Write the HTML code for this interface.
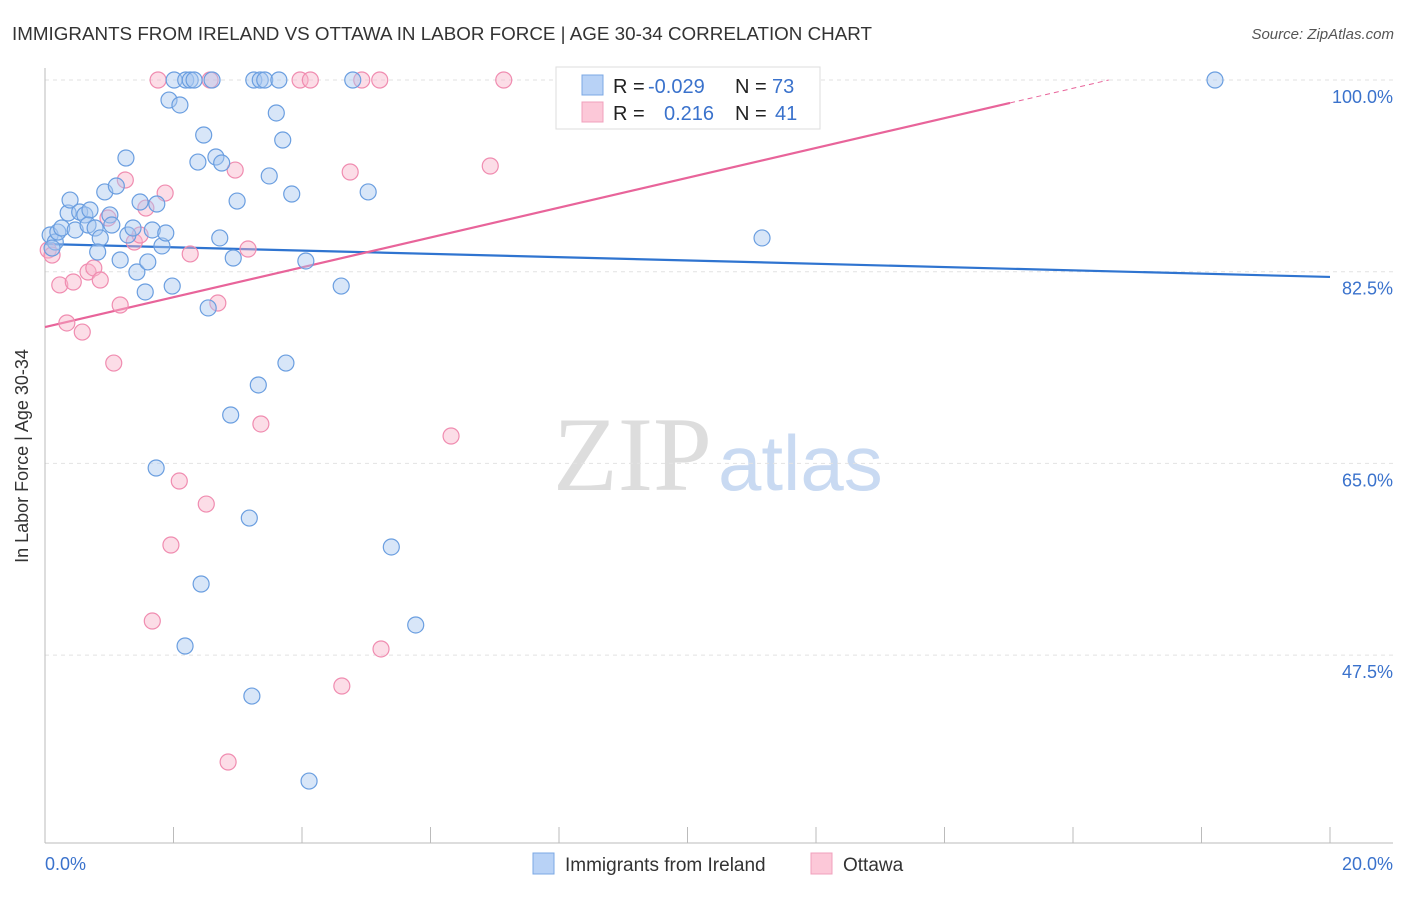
<!DOCTYPE html>
<html><head><meta charset="utf-8"><style>
body{margin:0;background:#fff;font-family:"Liberation Sans",sans-serif}
svg text{font-family:"Liberation Sans",sans-serif}
</style></head><body>
<svg id="c" width="1406" height="892" xmlns="http://www.w3.org/2000/svg">
<text x="12" y="40" font-size="18.5" fill="#333" textLength="860" lengthAdjust="spacingAndGlyphs">IMMIGRANTS FROM IRELAND VS OTTAWA IN LABOR FORCE | AGE 30-34 CORRELATION CHART</text>
<text x="1394" y="39" font-size="15" fill="#555" text-anchor="end" font-style="italic">Source: ZipAtlas.com</text>
<text x="28" y="456" font-size="18" fill="#333" text-anchor="middle" transform="rotate(-90 28 456)">In Labor Force | Age 30-34</text>
<g>
<text x="553" y="490" font-size="106" fill="#ddd" style="font-family:'Liberation Serif',serif">ZIP</text>
<text x="718" y="490" font-size="78" fill="#c9daf2">atlas</text>
</g>
<g id="grid"></g><g id="axes"></g><g id="lines"></g><g id="pts"></g>
<g>
<rect x="556" y="67" width="264" height="62" fill="#fff" stroke="#ddd"/>
<rect x="582" y="75" width="21" height="20" fill="#b8d2f6" stroke="#7ba8e4"/>
<rect x="582" y="102" width="21" height="20" fill="#fcc8d8" stroke="#f0a0bc"/>
<text x="613" y="93" font-size="20" fill="#222">R =</text><text x="648" y="93" font-size="20" fill="#3a72cc">-0.029</text>
<text x="735" y="93" font-size="20" fill="#222">N =</text><text x="772" y="93" font-size="20" fill="#3a72cc">73</text>
<text x="613" y="120" font-size="20" fill="#222">R =</text><text x="664" y="120" font-size="20" fill="#3a72cc">0.216</text>
<text x="735" y="120" font-size="20" fill="#222">N =</text><text x="775" y="120" font-size="20" fill="#3a72cc">41</text>
</g>
<g>
<rect x="533" y="853" width="21" height="21" fill="#b8d2f6" stroke="#7ba8e4"/>
<text x="565" y="871" font-size="19" fill="#333">Immigrants from Ireland</text>
<rect x="811" y="853" width="21" height="21" fill="#fcc8d8" stroke="#f0a0bc"/>
<text x="843" y="871" font-size="19" fill="#333">Ottawa</text>
</g>
</svg>
<script>
const yTicks=[100,82.5,65,47.5];
const yTickLabels=["100.0%","82.5%","65.0%","47.5%"];
const xTickLabels=["0.0%","20.0%"];
const blueX=[0.08,0.16,0.11,0.20,0.26,0.36,0.39,0.47,0.54,0.62,0.70,0.67,0.78,0.86,0.82,0.93,1.01,1.04,1.11,1.17,1.26,1.29,1.37,1.43,1.48,1.56,1.60,1.67,1.74,1.82,1.88,1.93,1.98,2.10,2.01,2.19,2.26,2.32,2.60,2.38,2.47,2.54,2.66,2.75,2.72,2.89,2.93,2.99,3.18,3.25,3.35,3.42,3.64,3.32,3.49,3.60,3.70,3.75,3.84,4.06,4.61,4.79,5.03,1.73,2.43,2.18,3.22,4.11,5.39,5.77,11.16,18.21];
const blueY=[85.85,85.21,84.66,86.12,86.49,87.86,89.04,86.31,87.95,87.68,88.13,86.76,86.49,85.58,84.30,89.78,87.68,86.76,90.32,83.57,92.88,85.85,86.49,82.47,88.86,80.65,83.39,86.31,88.68,84.85,86.03,98.17,81.19,97.72,100,100,100,100,100,92.51,94.98,79.19,92.97,92.42,85.58,69.42,83.75,88.95,60.01,100,100,100,100,72.16,91.24,96.99,94.52,74.16,89.59,83.48,81.19,100,89.78,64.58,53.99,48.33,43.76,36.00,57.37,50.25,85.58,100];
const pinkX=[0.05,0.11,0.23,0.34,0.44,0.58,0.67,0.76,0.86,0.98,1.07,1.17,1.25,1.39,1.48,1.57,1.67,1.76,1.87,1.96,2.09,2.26,2.51,2.57,2.69,2.85,2.96,3.16,3.36,3.97,4.13,4.62,4.75,4.93,5.21,5.23,6.32,6.93,7.14];
const pinkY=[84.48,84.02,81.29,77.82,81.56,76.99,82.47,82.84,81.74,87.40,74.16,79.46,90.87,85.21,85.85,88.31,50.61,100,89.68,57.55,63.39,84.12,61.29,100,79.64,37.74,91.78,84.57,68.60,100,100,44.68,91.60,100,100,48.06,67.50,92.15,100];
const blueFit=[85.03,82.02];
const pinkFit=[77.45,1.362];
const X=v=>45+v/20*1285, Y=v=>80+(100-v)/17.5*191.7;
const NS="http://www.w3.org/2000/svg";
function mk(p,t,a){const e=document.createElementNS(NS,t);for(const k in a)e.setAttribute(k,a[k]);document.getElementById(p).appendChild(e);return e;}
yTicks.forEach((t,i)=>{
 const g=mk('grid','line',{x1:45,x2:1393,y1:Y(t),y2:Y(t),stroke:'#e2e2e2','stroke-dasharray':'4,4'});
 
 
 const l=mk('axes','text',{x:1393,y:Y(t)+23,'font-size':18,fill:'#3a72cc','text-anchor':'end'});l.textContent=yTickLabels[i];
 
 
});
const ya=mk('axes','line',{x1:45,x2:45,y1:68,y2:843,stroke:'#bbb'});


const xa=mk('axes','line',{x1:45,x2:1393,y1:843,y2:843,stroke:'#bbb'});


for(let i=0;i<=10;i++){const t=mk('axes','line',{x1:X(i*2),x2:X(i*2),y1:827,y2:843,stroke:'#bbb'});
 
 }
[[0,'start',45],[1,'end',1393]].forEach(([i,a,x])=>{const t=mk('axes','text',{x:x,y:870,'font-size':18,fill:'#3a72cc','text-anchor':a});t.textContent=xTickLabels[i];
 
 });
function pts(xs,ys,fill,stroke,name){xs.forEach((x,i)=>{const c=mk('pts','circle',{cx:X(x),cy:Y(ys[i]),r:8,fill:fill,'fill-opacity':0.45,stroke:stroke,'stroke-width':1.2});
 
 });}
pts(pinkX,pinkY,'#f8b4ca','#f08cb0','ottawa-point');
pts(blueX,blueY,'#a8c8f0','#6a9ee0','ireland-point');
const bl=mk('lines','line',{x1:X(0),y1:Y(blueFit[0]),x2:X(20),y2:Y(blueFit[1]),stroke:'#2f74d0','stroke-width':2.2});


const pe=15.02, pd=(100-pinkFit[0])/pinkFit[1];
const pl=mk('lines','line',{x1:X(0),y1:Y(pinkFit[0]),x2:X(pe),y2:Y(pinkFit[0]+pinkFit[1]*pe),stroke:'#e8649a','stroke-width':2.2});


const pdl=mk('lines','line',{x1:X(pe),y1:Y(pinkFit[0]+pinkFit[1]*pe),x2:X(pd),y2:Y(100),stroke:'#e8649a','stroke-width':1,'stroke-dasharray':'5,4'});


</script>
</body></html>
